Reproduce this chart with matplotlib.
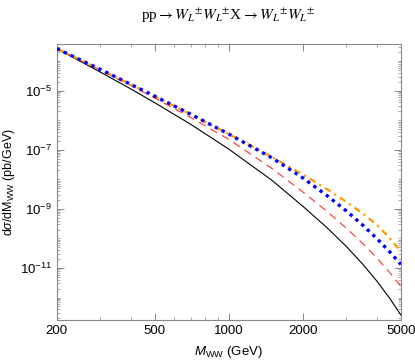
import numpy as np
import matplotlib
matplotlib.use("Agg")
import matplotlib.pyplot as plt
from matplotlib.ticker import FixedLocator, NullFormatter, LogLocator

plt.rcParams['font.family'] = ['Liberation Sans', 'DejaVu Sans']
plt.rcParams['mathtext.fontset'] = 'custom'
plt.rcParams['mathtext.rm'] = 'Liberation Sans'
plt.rcParams['mathtext.it'] = 'Liberation Sans:italic'

mww = [200, 300, 400, 500, 700, 1000, 1500, 2000, 2500, 3000, 3500, 4000, 4500, 5000]
log_black = [-3.58, -4.37, -4.945, -5.41, -6.14, -6.98, -8.04, -8.915, -9.63, -10.27, -10.87, -11.45, -12.02, -12.59]
log_red = [-3.58, -4.30, -4.83, -5.25, -5.91, -6.65, -7.64, -8.43, -9.08, -9.65, -10.17, -10.67, -11.15, -11.62]
log_blue = [-3.58, -4.28, -4.79, -5.19, -5.80, -6.47, -7.28, -7.955, -8.547, -9.068, -9.55, -10.01, -10.45, -10.88]
log_orange = [-3.58, -4.28, -4.79, -5.19, -5.80, -6.47, -7.25, -7.84, -8.33, -8.76, -9.15, -9.55, -9.98, -10.46]

xticks = [200, 500, 1000, 2000, 5000]
xminor = [300, 400, 600, 700, 800, 900, 3000, 4000]
yticks = [1e-5, 1e-7, 1e-9, 1e-11]

fig = plt.figure(figsize=(4.15, 3.6), dpi=100)
ax = fig.add_axes([0.137, 0.111, 0.829, 0.767])

m = np.array(mww, dtype=float)
ax.plot(m, 10**np.array(log_black), color='black', lw=0.8, zorder=2)
ax.plot(m, 10**np.array(log_red), color='#ff3030', lw=0.8, dashes=(7, 5), zorder=3)
ax.plot(m, 10**np.array(log_orange), color='#ff9900', lw=1.6, dashes=(3, 2, 1, 2), zorder=4)
ax.plot(m, 10**np.array(log_blue), color='#0000ff', lw=2.4, dashes=(1.0, 1.3), zorder=5)

ax.set_xscale('log')
ax.set_yscale('log')
ax.set_xlim(200, 5000)
ax.set_ylim(10**-12.76, 10**-3.42)

ax.xaxis.set_major_locator(FixedLocator(xticks))
ax.xaxis.set_minor_locator(FixedLocator(xminor))
ax.xaxis.set_minor_formatter(NullFormatter())
ax.set_xticklabels([str(t) for t in xticks])

ax.yaxis.set_major_locator(FixedLocator(yticks))
ax.yaxis.set_minor_locator(LogLocator(base=10, subs=np.arange(1, 10), numticks=30))
ax.yaxis.set_minor_formatter(NullFormatter())
ax.set_yticklabels([r'$10^{-5}$', r'$10^{-7}$', r'$10^{-9}$', r'$10^{-11}$'])

for s in ax.spines.values():
    s.set_color('#888888')
    s.set_linewidth(0.8)
ax.tick_params(which='both', direction='in', top=True, right=True, color='#888888', labelsize=9.5)
ax.tick_params(which='major', length=5, width=0.7)
ax.tick_params(which='minor', length=2.5, width=0.5)

ax.set_xlabel(r'$M_{\rm WW}$ (GeV)', fontsize=9.5, labelpad=5)
ax.set_ylabel(r'd$\sigma$/dM$_{\rm WW}$ (pb/GeV)', fontsize=9, labelpad=2)

fig.text(0.55, 0.955, r'pp$\rightarrow$$W_L$$^{\pm}$$W_L$$^{\pm}$X$\rightarrow$$W_L$$^{\pm}$$W_L$$^{\pm}$',
         ha='center', va='center', fontsize=11, family='Liberation Serif',
         math_fontfamily='stix')

fig.savefig('out.png', dpi=100)
